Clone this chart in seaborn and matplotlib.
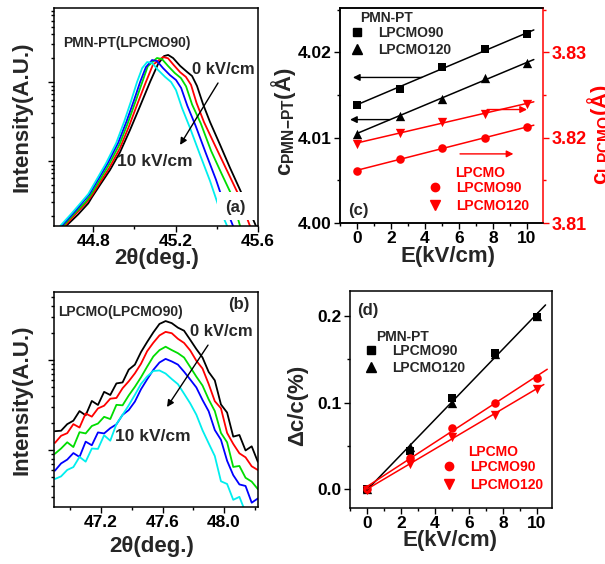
import numpy as np
import seaborn as sns
import matplotlib
matplotlib.use('Agg')
import matplotlib.pyplot as plt
from matplotlib.ticker import MultipleLocator, NullFormatter, FormatStrFormatter
from matplotlib.lines import Line2D
from matplotlib.patches import Rectangle

# ---- (a) PMN-PT(LPCMO90) peak, 0 -> 10 kV/cm ----
a_x_black = [44.669, 44.727, 44.776, 44.795, 44.834, 44.882, 44.931, 44.979, 45.028, 45.076, 45.115, 45.144, 45.164,
             45.188, 45.222, 45.256, 45.280, 45.304, 45.333, 45.367, 45.416, 45.464, 45.513, 45.551, 45.590]
a_y_black = [15, 21, 29, 35, 50, 77, 130, 247, 497, 1000, 1690, 2130, 2200,
             2010, 1600, 1340, 1190, 890, 527, 312, 160, 82, 43, 26, 15]
a_x_red = [44.662, 44.720, 44.769, 44.792, 44.831, 44.880, 44.930, 44.974, 45.015, 45.056, 45.090, 45.139,
           45.163, 45.190, 45.222, 45.250, 45.275, 45.302, 45.338, 45.390, 45.445, 45.500, 45.561]
a_y_red = [15, 22, 30, 36, 52, 83, 145, 275, 530, 1000, 1650, 2070,
           2000, 1650, 1330, 1160, 920, 540, 310, 160, 80, 40, 15]
a_x_green = [44.654, 44.712, 44.762, 44.788, 44.828, 44.877, 44.928, 44.968, 45.005, 45.038, 45.065, 45.110,
             45.134, 45.163, 45.196, 45.226, 45.251, 45.280, 45.322, 45.372, 45.422, 45.466, 45.513]
a_y_green = [15, 22, 30, 37, 55, 90, 162, 300, 560, 990, 1580, 2014,
             1950, 1600, 1300, 1120, 880, 520, 300, 135, 70, 40, 15]
a_x_blue = [44.647, 44.705, 44.754, 44.782, 44.822, 44.871, 44.921, 44.961, 44.997, 45.028, 45.056, 45.086,
            45.110, 45.139, 45.173, 45.202, 45.227, 45.257, 45.297, 45.347, 45.396, 45.437, 45.479]
a_y_blue = [15, 22, 31, 38, 57, 94, 169, 312, 574, 1000, 1540, 1897,
            1840, 1500, 1220, 1060, 840, 500, 280, 125, 58, 28, 15]
a_x_cyan = [44.640, 44.698, 44.747, 44.776, 44.815, 44.863, 44.912, 44.950, 44.984, 45.013, 45.038, 45.062,
            45.086, 45.115, 45.149, 45.178, 45.202, 45.231, 45.270, 45.319, 45.367, 45.406, 45.450]
a_y_cyan = [15, 22, 31, 38, 57, 94, 169, 312, 574, 1000, 1500, 1790,
            1740, 1420, 1160, 1000, 790, 470, 262, 119, 56, 28, 15]

# ---- (b) LPCMO(LPCMO90) peak ----
b_theta = [46.90, 46.94, 46.98, 47.02, 47.06, 47.10, 47.14, 47.18, 47.22, 47.26, 47.30, 47.34,
           47.38, 47.42, 47.46, 47.50, 47.54, 47.58, 47.62, 47.66, 47.70, 47.74, 47.78, 47.82,
           47.86, 47.90, 47.94, 47.98, 48.02, 48.06, 48.10, 48.14, 48.18, 48.22]
b_black = [162, 164, 194, 212, 271, 243, 351, 317, 443, 409, 550, 564, 782, 889, 1227, 1589, 2028,
           2518, 2710, 2570, 2291, 2118, 1679, 1324, 1067, 738, 594, 321, 261, 141, 147, 99, 110, 74]
b_red = [120, 144, 154, 194, 178, 255, 235, 290, 311, 372, 379, 486, 580, 711, 910, 1255, 1556,
         1877, 2056, 1986, 1722, 1549, 1279, 982, 805, 542, 349, 291, 155, 117, 92, 83, 66, 60]
b_green = [91, 104, 122, 108, 158, 153, 185, 197, 234, 221, 318, 314, 404, 504, 644, 845, 1095,
           1288, 1406, 1290, 1192, 1067, 837, 654, 521, 366, 271, 155, 122, 64.9, 66.6, 49.2, 44.6, 36.8]
b_blue = [59, 71, 78.3, 92.6, 83.8, 124, 113, 157, 153, 175, 193, 246, 278, 345, 474, 611, 777,
          939, 1030, 965, 890, 742, 608, 496, 360, 270, 167, 130, 76, 52.6, 41.5, 39.9, 26, 29]
b_cyan = [47.7, 51, 60.1, 64.7, 83.9, 74.3, 104, 103, 146, 127, 194, 246, 314, 410, 543, 657, 756,
          766, 708, 615, 540, 423, 330, 247, 166, 119, 85.8, 45, 42, 28, 30.2, 20.3, 19.1, 16.2]

# ---- (c) lattice parameters vs field ----
E = [0, 2.5, 5, 7.5, 10]
c_pmn_90 = [4.01388, 4.01576, 4.01824, 4.0204, 4.0221]
c_pmn_120 = [4.01047, 4.01259, 4.01459, 4.01694, 4.01871]
c_lpcmo_90 = [3.8161, 3.8175, 3.8188, 3.8200, 3.8212]
c_lpcmo_120 = [3.8193, 3.8206, 3.8218, 3.8228, 3.8240]

# ---- (d) relative change ----
d_pmn_90 = [0.0, 0.044, 0.105, 0.157, 0.199]
d_pmn_120 = [0.0, 0.048, 0.099, 0.156, 0.200]
d_lpcmo_90 = [0.0, 0.036, 0.070, 0.100, 0.128]
d_lpcmo_120 = [-0.001, 0.029, 0.060, 0.086, 0.116]

field_colors = ['black', 'red', '#00dd00', 'blue', '#00eeee']

sns.set_style('ticks', {'axes.edgecolor': 'black', 'xtick.color': 'black', 'ytick.color': 'black'})
plt.rcParams['font.family'] = ['Liberation Sans', 'DejaVu Sans']
plt.rcParams['font.weight'] = 'bold'
plt.rcParams['axes.labelweight'] = 'bold'
plt.rcParams['axes.linewidth'] = 1.1
for k in ('xtick', 'ytick'):
    plt.rcParams[k + '.major.size'] = 4.5
    plt.rcParams[k + '.minor.size'] = 2.5
    plt.rcParams[k + '.major.width'] = 1
    plt.rcParams[k + '.minor.width'] = 1
    plt.rcParams[k + '.major.pad'] = 1.5
    plt.rcParams[k + '.minor.pad'] = 1.5

W, H = 605, 564
fig = plt.figure(figsize=(6.05, 5.64), dpi=100)


def box(l, r, t, b):
    return [l / W, (H - b) / H, (r - l) / W, (b - t) / H]


ax_a = fig.add_axes(box(54, 258, 8, 226))
ax_b = fig.add_axes(box(54, 258, 292, 507))
ax_c = fig.add_axes(box(340, 543, 8, 223))
ax_d = fig.add_axes(box(350, 552, 291, 508))

TICK_FS = 12.5
LAB_FS = 16


def arrow(ax, tail, head, color='black', coords='axes fraction'):
    ax.annotate('', xy=head, xytext=tail, xycoords=coords, textcoords=coords,
                arrowprops=dict(arrowstyle='-|>', color=color, lw=1, mutation_scale=10,
                                shrinkA=0, shrinkB=0))


# ---------- (a) ----------
for xs, ys, col in zip([a_x_black, a_x_red, a_x_green, a_x_blue, a_x_cyan],
                       [a_y_black, a_y_red, a_y_green, a_y_blue, a_y_cyan], field_colors):
    sns.lineplot(x=xs, y=ys, ax=ax_a, color=col, lw=1.3, sort=False, estimator=None)
ax_a.set_yscale('log')
ax_a.set_xlim(44.61, 45.6)
ax_a.set_ylim(15, 8650)
ax_a.xaxis.set_major_locator(MultipleLocator(0.4))
ax_a.xaxis.set_minor_locator(MultipleLocator(0.2))
ax_a.xaxis.set_major_formatter(FormatStrFormatter('%.1f'))
ax_a.add_patch(Rectangle((0.80, 0.028), 0.195, 0.128, transform=ax_a.transAxes,
                         fc='white', ec='none', zorder=3))
ax_a.text(0.887, 0.087, '(a)', transform=ax_a.transAxes, fontsize=12, ha='center', va='center', zorder=4)
ax_a.text(0.044, 0.839, 'PMN-PT(LPCMO90)', transform=ax_a.transAxes, fontsize=10, va='center')
ax_a.text(0.676, 0.716, '0 kV/cm', transform=ax_a.transAxes, fontsize=12, va='center')
ax_a.text(0.309, 0.298, '10 kV/cm', transform=ax_a.transAxes, fontsize=12.5, va='center')
arrow(ax_a, (0.804, 0.656), (0.618, 0.372))
ax_a.set_xlabel('2θ(deg.)', fontsize=LAB_FS, va='center')
ax_a.xaxis.set_label_coords(0.505, -0.15)

# ---------- (b) ----------
for ys, col in zip([b_black, b_red, b_green, b_blue, b_cyan], field_colors):
    sns.lineplot(x=b_theta, y=ys, ax=ax_b, color=col, lw=1.3, sort=False, estimator=None)
ax_b.set_yscale('log')
ax_b.set_xlim(46.894, 48.221)
ax_b.set_ylim(23.3, 5700)
ax_b.xaxis.set_major_locator(MultipleLocator(0.4))
ax_b.xaxis.set_minor_locator(MultipleLocator(0.2))
ax_b.xaxis.set_major_formatter(FormatStrFormatter('%.1f'))
ax_b.text(0.02, 0.907, 'LPCMO(LPCMO90)', transform=ax_b.transAxes, fontsize=10, va='center')
ax_b.text(0.907, 0.94, '(b)', transform=ax_b.transAxes, fontsize=12, ha='center', va='center')
ax_b.text(0.667, 0.814, '0 kV/cm', transform=ax_b.transAxes, fontsize=12, va='center')
ax_b.text(0.299, 0.326, '10 kV/cm', transform=ax_b.transAxes, fontsize=12.5, va='center')
arrow(ax_b, (0.755, 0.753), (0.554, 0.465))
ax_b.set_xlabel('2θ(deg.)', fontsize=LAB_FS, va='center')
ax_b.xaxis.set_label_coords(0.48, -0.186)

for ax in (ax_a, ax_b):
    ax.yaxis.set_major_formatter(NullFormatter())
    ax.yaxis.set_minor_formatter(NullFormatter())
    ax.set_ylabel('Intensity(A.U.)', fontsize=LAB_FS, va='center')
    ax.yaxis.set_label_coords(-0.157, 0.5)
    ax.tick_params(labelsize=TICK_FS)

# ---------- (c) ----------
ax_c2 = ax_c.twinx()
fit_x_c = np.array([0, 10.4])
sns.scatterplot(x=E, y=c_pmn_90, ax=ax_c, marker='s', s=32, color='black', linewidth=0)
sns.scatterplot(x=E, y=c_pmn_120, ax=ax_c, marker='^', s=45, color='black', linewidth=0)
for vals in (c_pmn_90, c_pmn_120):
    p = np.polyfit(E, vals, 1)
    sns.lineplot(x=fit_x_c, y=np.polyval(p, fit_x_c), ax=ax_c, color='black', lw=1.1)
sns.scatterplot(x=E, y=c_lpcmo_90, ax=ax_c2, marker='o', s=38, color='red', linewidth=0)
sns.scatterplot(x=E, y=c_lpcmo_120, ax=ax_c2, marker='v', s=45, color='red', linewidth=0)
for vals in (c_lpcmo_90, c_lpcmo_120):
    p = np.polyfit(E, vals, 1)
    sns.lineplot(x=fit_x_c, y=np.polyval(p, fit_x_c), ax=ax_c2, color='red', lw=1.1)

ax_c.set_xlim(-1, 10.94)
ax_c.set_ylim(4.00, 4.0252)
ax_c2.set_ylim(3.81, 3.8352)
ax_c.xaxis.set_major_locator(MultipleLocator(2))
ax_c.xaxis.set_minor_locator(MultipleLocator(1))
ax_c.yaxis.set_major_locator(MultipleLocator(0.01))
ax_c.yaxis.set_minor_locator(MultipleLocator(0.005))
ax_c.yaxis.set_major_formatter(FormatStrFormatter('%.2f'))
ax_c2.yaxis.set_major_locator(MultipleLocator(0.01))
ax_c2.yaxis.set_minor_locator(MultipleLocator(0.005))
ax_c2.yaxis.set_major_formatter(FormatStrFormatter('%.2f'))
ax_c.tick_params(labelsize=TICK_FS)
ax_c.tick_params(axis='y', which='both', right=False)
ax_c.spines['right'].set_visible(False)
ax_c2.spines['right'].set_color('red')
ax_c2.spines['right'].set_linewidth(1.1)
ax_c2.tick_params(axis='y', which='both', colors='red', labelsize=13)
ax_c2.set_ylabel('')

arrow(ax_c, (3.82, 4.01706), (-0.24, 4.01706), coords='data')
arrow(ax_c, (1.94, 4.01212), (-0.41, 4.01212), coords='data')
arrow(ax_c2, (7.65, 3.8233), (10.0, 3.8233), color='red', coords='data')
arrow(ax_c2, (6.06, 3.8181), (9.2, 3.8181), color='red', coords='data')

ax_c.text(0.039, 0.06, '(c)', transform=ax_c.transAxes, fontsize=12, va='center')
ax_c.text(0.0985, 0.953, 'PMN-PT', transform=ax_c.transAxes, fontsize=10, va='center')
ax_c.text(0.567, 0.233, 'LPCMO', transform=ax_c.transAxes, fontsize=10, va='center', color='red')

ax_c.set_xlabel('E(kV/cm)', fontsize=LAB_FS, va='center')
ax_c.xaxis.set_label_coords(0.532, -0.158)
ax_c.set_ylabel(r'c$_{\mathregular{PMN{-}PT}}$(Å)', fontsize=LAB_FS, va='center')
ax_c.yaxis.set_label_coords(-0.28, 0.47)
ax_c2.set_ylabel(r'c$_{\mathregular{LPCMO}}$(Å)', fontsize=LAB_FS, va='center', color='red')
ax_c2.yaxis.set_label_coords(1.28, 0.41)

# ---------- (d) ----------
sns.scatterplot(x=E, y=d_pmn_90, ax=ax_d, marker='s', s=32, color='black', linewidth=0)
sns.scatterplot(x=E, y=d_pmn_120, ax=ax_d, marker='^', s=45, color='black', linewidth=0)
sns.scatterplot(x=E, y=d_lpcmo_90, ax=ax_d, marker='o', s=38, color='red', linewidth=0)
sns.scatterplot(x=E, y=d_lpcmo_120, ax=ax_d, marker='v', s=45, color='red', linewidth=0)
p = np.polyfit(E + E, d_pmn_90 + d_pmn_120, 1)
xs = np.array([0, 10.5])
sns.lineplot(x=xs, y=np.polyval(p, xs), ax=ax_d, color='black', lw=1.1)
for vals, xend in ((d_lpcmo_90, 10.6), (d_lpcmo_120, 10.4)):
    p = np.polyfit(E, vals, 1)
    xs = np.array([0, xend])
    sns.lineplot(x=xs, y=np.polyval(p, xs), ax=ax_d, color='red', lw=1.1)
ax_d.set_xlim(-1, 10.88)
ax_d.set_ylim(-0.022, 0.229)
ax_d.xaxis.set_major_locator(MultipleLocator(2))
ax_d.xaxis.set_minor_locator(MultipleLocator(1))
ax_d.yaxis.set_major_locator(MultipleLocator(0.1))
ax_d.yaxis.set_minor_locator(MultipleLocator(0.05))
ax_d.yaxis.set_major_formatter(FormatStrFormatter('%.1f'))
ax_d.tick_params(labelsize=TICK_FS)
ax_d.text(0.035, 0.912, '(d)', transform=ax_d.transAxes, fontsize=12, va='center')
ax_d.text(0.129, 0.788, 'PMN-PT', transform=ax_d.transAxes, fontsize=10, va='center')
ax_d.text(0.584, 0.258, 'LPCMO', transform=ax_d.transAxes, fontsize=10, va='center', color='red')
ax_d.set_xlabel('E(kV/cm)', fontsize=LAB_FS, va='center')
ax_d.xaxis.set_label_coords(0.495, -0.152)
ax_d.set_ylabel('Δc/c(%)', fontsize=LAB_FS, va='center')
ax_d.yaxis.set_label_coords(-0.257, 0.475)

# legends
black_handles = [Line2D([], [], marker='s', ls='', color='black', markersize=5.5),
                 Line2D([], [], marker='^', ls='', color='black', markersize=6.5)]
red_handles = [Line2D([], [], marker='o', ls='', color='red', markersize=6),
               Line2D([], [], marker='v', ls='', color='red', markersize=6.5)]
leg_kw = dict(frameon=False, fontsize=10, loc='upper left', borderpad=0, borderaxespad=0,
              handlelength=1.0, handletextpad=1.0, labelspacing=0.2)


def legends(ax, black_anchor, red_anchor, red_spacing):
    l1 = ax.legend(black_handles, ['LPCMO90', 'LPCMO120'], bbox_to_anchor=black_anchor, **leg_kw)
    ax.add_artist(l1)
    kw = dict(leg_kw)
    kw['labelspacing'] = red_spacing
    l2 = ax.legend(red_handles, ['LPCMO90', 'LPCMO120'], bbox_to_anchor=red_anchor, **kw)
    for t in l2.get_texts():
        t.set_color('red')


legends(ax_c, (0.049, 0.915), (0.433, 0.195), 0.3)
legends(ax_d, (0.069, 0.755), (0.455, 0.222), 0.3)

fig.savefig('out.png', dpi=100)
